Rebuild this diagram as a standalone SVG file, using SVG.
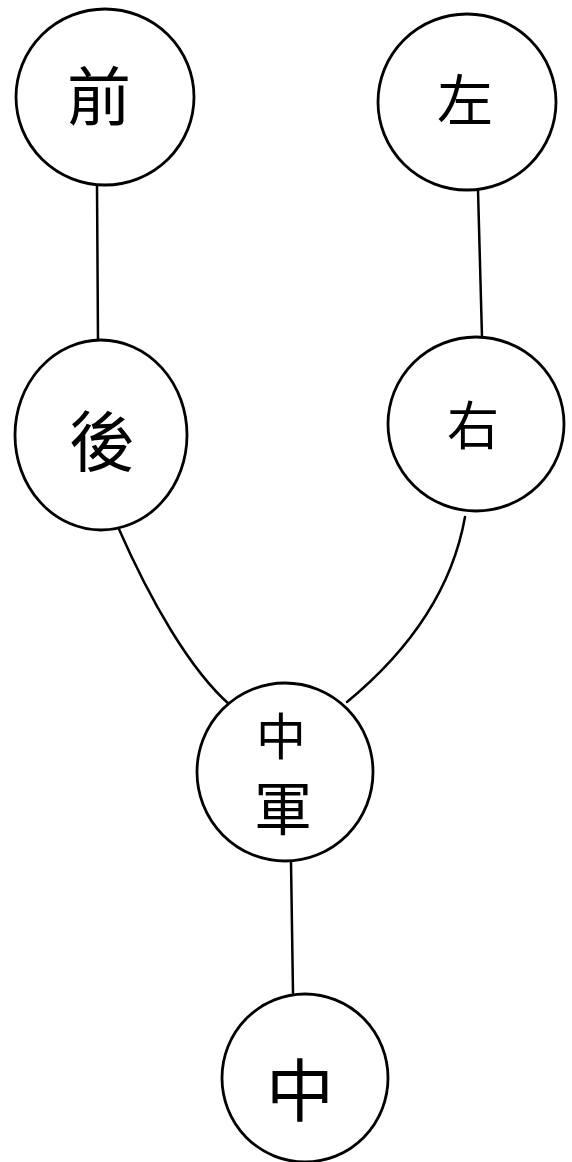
<svg xmlns="http://www.w3.org/2000/svg" width="572" height="1162" viewBox="0 0 572 1162">
<style>
.node{fill:#ffffff;stroke:#000000;stroke-width:2.8}
.lbl{font-family:"Noto Sans CJK TC","Noto Sans CJK JP",sans-serif;font-weight:400;fill:#000000;text-anchor:middle;dominant-baseline:central}
.edge{fill:none;stroke:#000000;stroke-width:2.5;stroke-linecap:round}
</style>
<rect x="0" y="0" width="572" height="1162" fill="#ffffff"/>
<g id="connectors">
<path class="edge" d="M97,185 L98,340"/>
<path class="edge" d="M478,190 L482,337"/>
<path class="edge" d="M118,527 C150,600 190,670 230,705"/>
<path class="edge" d="M465,517 C452,590 410,650 347,702"/>
<path class="edge" d="M291,862 L293,993"/>
</g>
<g id="node-qian">
<ellipse class="node" cx="105" cy="97" rx="89" ry="88"/>
<text class="lbl" x="99" y="92" font-size="64">前</text>
</g>
<g id="node-zuo">
<ellipse class="node" cx="467" cy="102" rx="89" ry="88"/>
<text class="lbl" x="465" y="96" font-size="56">左</text>
</g>
<g id="node-hou">
<ellipse class="node" cx="101" cy="435" rx="86" ry="95"/>
<text class="lbl" x="102" y="437" font-size="66">後</text>
</g>
<g id="node-you">
<ellipse class="node" cx="476" cy="424" rx="88" ry="87"/>
<text class="lbl" x="473" y="422" font-size="52">右</text>
</g>
<g id="node-zhongjun">
<ellipse class="node" cx="285" cy="772" rx="88" ry="89"/>
<text class="lbl" x="281" y="733" font-size="50">中</text>
<text class="lbl" x="283" y="805" font-size="58">軍</text>
</g>
<g id="node-zhong">
<ellipse class="node" cx="305" cy="1078" rx="83" ry="84"/>
<text class="lbl" x="300" y="1086" font-size="68">中</text>
</g>
</svg>
